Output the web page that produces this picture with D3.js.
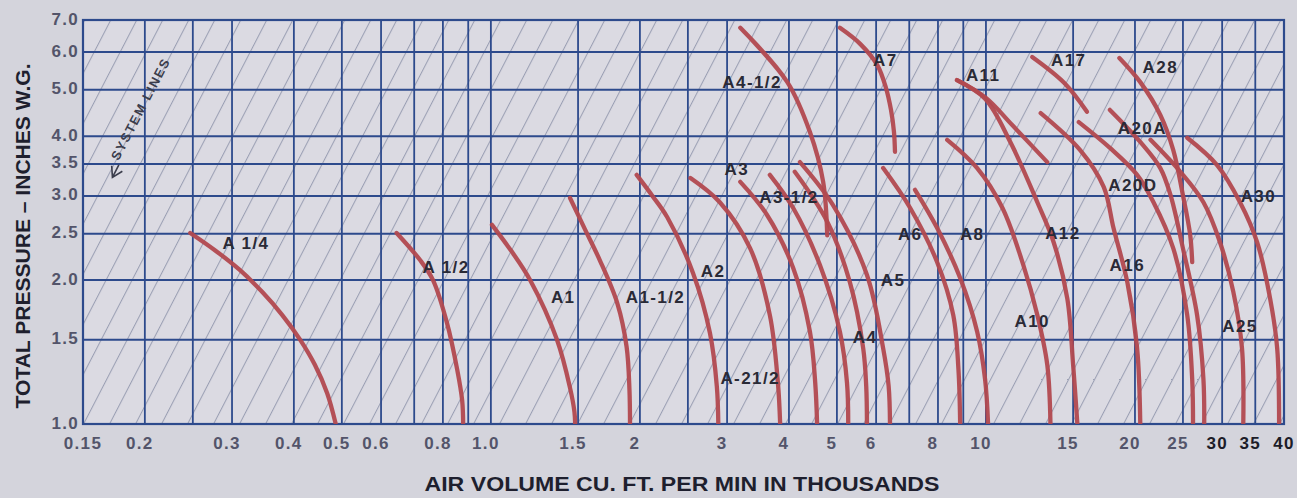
<!DOCTYPE html>
<html><head><meta charset="utf-8">
<script src="https://cdn.jsdelivr.net/npm/d3@7"></script>
<style>
html,body{margin:0;padding:0;background:#d3d3db;}
svg{display:block;}
</style></head><body>
<svg id="chart" width="1297" height="498"></svg>
<script>
// ---- data ----
const xTicks = [0.15,0.2,0.3,0.4,0.5,0.6,0.8,1.0,1.5,2,3,4,5,6,8,10,15,20,25,30,35,40];
const xTickLabels = ["0.15","0.2","0.3","0.4","0.5","0.6","0.8","1.0","1.5","2","3","4","5","6","8","10","15","20","25","30","35","40"];
const xGridValues = [0.15,0.2,0.25,0.3,0.4,0.5,0.6,0.7,0.8,0.9,1,1.5,2,2.5,3,4,5,6,7,8,9,10,15,20,25,30,35,40];
const yTicks = [1.0,1.5,2.0,2.5,3.0,3.5,4.0,5.0,6.0,7.0];
const yTickLabels = ["1.0","1.5","2.0","2.5","3.0","3.5","4.0","5.0","6.0","7.0"];

const fanNames = ["A 1/4","A 1/2","A1","A1-1/2","A2","A-21/2","A3","A3-1/2","A4","A4-1/2","A5","A6","A7","A8","A10","A11","A12","A16","A17","A20A","A20D","A25","A28","A30"];
// air volume (thousand CFM) along each fan curve
const fanFlow = [
  [0.247,0.277,0.311,0.345,0.379,0.412,0.441,0.467,0.486],
  [0.645,0.72,0.764,0.815,0.855,0.875,0.879],
  [1.005,1.10,1.20,1.36,1.445,1.475,1.48],
  [1.445,1.55,1.66,1.80,1.88,1.905,1.91],
  [1.97,2.12,2.27,2.56,2.77,2.86,2.88],
  [2.53,2.90,3.34,3.66,3.80,3.84],
  [3.19,3.61,4.08,4.41,4.52,4.56],
  [3.66,4.08,4.62,5.07,5.24,5.27],
  [4.11,4.78,5.31,5.65,5.73,5.75],
  [3.19,3.97,4.41,4.69,4.78],
  [4.21,4.91,5.75,6.20,6.36,6.40],
  [6.20,7.03,7.97,8.59,8.80,8.87],
  [5.07,5.57,6.03,6.28,6.43,6.52,6.55],
  [7.19,7.97,8.87,9.60,9.96,10.1],
  [8.35,9.60,10.8,11.9,12.7,13.3,13.5],
  [8.74,10.0,11.3,13.3],
  [8.74,9.96,11.2,12.7,13.7,14.6,15.0,15.3],
  [12.9,15.5,17.3,18.1,19.3,20.2,20.5],
  [12.4,14.4,16.0],
  [17.8,20.5,22.5,23.6,25.0,26.7,27.5,27.6],
  [15.4,17.8,20.2,21.8,23.9,25.5,26.1,26.2],
  [21.5,24.7,27.5,29.7,31.6,32.9,33.1],
  [18.6,20.5,22.5,23.9,25.0,25.85,26.1],
  [25.5,29.3,32.6,35.3,37.5,38.75,39.1]
];
// total pressure (in. W.G.) along each fan curve
const fanPressure = [
  [2.51,2.31,2.10,1.89,1.69,1.50,1.33,1.16,1.0],
  [2.51,2.2,2.0,1.63,1.30,1.12,1.0],
  [2.61,2.30,2.0,1.50,1.19,1.06,1.0],
  [2.97,2.55,2.20,1.79,1.45,1.18,1.0],
  [3.32,3.0,2.71,2.07,1.55,1.20,1.0],
  [3.27,2.91,2.33,1.69,1.22,1.0],
  [3.21,2.74,2.12,1.56,1.22,1.0],
  [3.32,2.83,2.15,1.56,1.22,1.0],
  [3.37,2.65,1.98,1.44,1.2,1.0],
  [6.74,5.19,4.08,3.21,2.48],
  [3.53,2.87,2.05,1.44,1.2,1.0],
  [3.43,2.83,2.18,1.69,1.30,1.0],
  [6.74,6.24,5.64,5.05,4.54,4.08,3.71],
  [3.09,2.57,2.02,1.56,1.24,1.0],
  [3.93,3.43,2.83,2.15,1.69,1.33,1.0],
  [5.24,4.81,4.22,3.53],
  [5.24,4.79,3.89,2.91,2.40,1.83,1.33,1.0],
  [4.47,3.74,3.13,2.57,1.98,1.44,1.0],
  [5.86,5.17,4.50],
  [4.54,3.89,3.43,3.01,2.33,1.69,1.24,1.0],
  [4.28,3.78,3.32,2.91,2.33,1.69,1.24,1.0],
  [3.93,3.37,2.91,2.40,1.89,1.44,1.0],
  [5.83,5.19,4.43,3.74,3.01,2.49,2.18],
  [3.97,3.48,2.91,2.40,1.83,1.44,1.0]
];
// label anchor (flow, pressure) for each fan name
const labelFlow = [0.320,0.812,1.40,2.15,2.81,3.34,3.14,4.00,5.70,3.37,6.49,7.03,6.26,9.38,12.4,9.87,14.3,19.3,14.7,20.7,19.8,32.6,22.5,35.5];
const labelPressure = [2.38,2.12,1.835,1.835,2.08,1.248,3.40,2.97,1.52,5.19,2.00,2.49,5.77,2.49,1.635,5.37,2.50,2.15,5.77,4.16,3.16,1.60,5.58,2.99];

// ---- chart ----
const svg = d3.select("#chart");
const W = 1297, H = 498;
const L = 83, R = 1284, T = 20, B = 424;
const FONT = "Liberation Sans, Arial, sans-serif";

const x = d3.scaleLog().domain([0.15, 40]).range([L, R]);
const y = d3.scaleLog().domain([1, 7]).range([B, T]);

svg.append("rect").attr("width", W).attr("height", H).attr("fill", "#d4d4dc");

const defs = svg.append("defs");
// system lines: P proportional to Q^2 are straight lines in log-log space
const slopePx = 2 * (B - T) / Math.log10(7) / ((R - L) / Math.log10(40 / 0.15));
const ang = Math.atan(slopePx) * 180 / Math.PI;
const hSpacing = 26;
const perp = hSpacing * Math.sin(Math.atan(slopePx));
const pat = defs.append("pattern").attr("id", "sys")
  .attr("patternUnits", "userSpaceOnUse")
  .attr("width", perp).attr("height", 40)
  .attr("patternTransform", `translate(${L},${B}) rotate(${90 - ang})`);
pat.append("line").attr("x1", 0.5).attr("x2", 0.5).attr("y1", 0).attr("y2", 40)
  .attr("stroke", "#868ca4").attr("stroke-width", 1.1).attr("opacity", 0.75);

defs.append("clipPath").attr("id", "plotclip")
  .append("rect").attr("x", L).attr("y", T).attr("width", R - L).attr("height", B - T);

const plot = svg.append("g");
plot.append("rect").attr("x", L).attr("y", T).attr("width", R - L).attr("height", B - T)
  .attr("fill", "#dbdae2");
plot.append("rect").attr("x", L).attr("y", T).attr("width", R - L).attr("height", B - T)
  .attr("fill", "url(#sys)");

// grid
const gridColor = "#2d4a8c";
plot.append("g").selectAll("line").data(xGridValues).join("line")
  .attr("x1", d => x(d)).attr("x2", d => x(d)).attr("y1", T).attr("y2", B)
  .attr("stroke", gridColor).attr("stroke-width", 1.8);
plot.append("g").selectAll("line").data(yTicks).join("line")
  .attr("x1", L).attr("x2", R).attr("y1", d => y(d)).attr("y2", d => y(d))
  .attr("stroke", gridColor).attr("stroke-width", 2);
plot.append("rect").attr("x", L).attr("y", T).attr("width", R - L).attr("height", B - T)
  .attr("fill", "none").attr("stroke", gridColor).attr("stroke-width", 2.2);

// "SYSTEM LINES" annotation
const sx0 = x(0.172), sy0 = y(3.28);
const ann = svg.append("g").attr("transform", `translate(${sx0},${sy0}) rotate(${-ang})`);
ann.append("text").attr("x", 17).attr("y", -2)
  .attr("font-family", FONT).attr("font-weight", "bold")
  .attr("font-size", 13).attr("letter-spacing", 1.5).attr("fill", "#3b3d4c")
  .text("SYSTEM LINES");
ann.append("path").attr("d", "M10,-6 L0,0 L10,6 M0,0 L14,0")
  .attr("fill", "none").attr("stroke", "#3b3d4c").attr("stroke-width", 1.6);

// fan curves
const line = d3.line().x(d => x(d[0])).y(d => y(d[1])).curve(d3.curveCatmullRom.alpha(0.5));
const curves = svg.append("g").attr("clip-path", "url(#plotclip)");
fanNames.forEach((name, i) => {
  const pts = fanFlow[i].map((q, j) => [q, fanPressure[i][j]]);
  curves.append("path").datum(pts).attr("d", line)
    .attr("fill", "none").attr("stroke", "#b2494f").attr("stroke-width", 4.3)
    .attr("stroke-linecap", "round").attr("opacity", 0.95);
});

// curve labels
svg.append("g").selectAll("text").data(fanNames).join("text")
  .attr("x", (d, i) => x(labelFlow[i])).attr("y", (d, i) => y(labelPressure[i]))
  .attr("text-anchor", "middle").attr("dominant-baseline", "central")
  .attr("font-family", FONT).attr("font-weight", "bold")
  .attr("font-size", 17).attr("letter-spacing", 1.4).attr("fill", "#2a2a36")
  .text(d => d);

// tick labels
svg.append("g").selectAll("text").data(xTicks).join("text")
  .attr("x", d => x(d)).attr("dx", (d, i) => (i === 0 || i === xTicks.length - 1) ? 0 : -5)
  .attr("y", 449)
  .attr("text-anchor", "middle")
  .attr("font-family", FONT).attr("font-weight", "bold")
  .attr("font-size", 17).attr("letter-spacing", 1.3)
  .attr("fill", d => d >= 30 ? "#1c1c28" : "#53546a")
  .text((d, i) => xTickLabels[i]);
svg.append("g").selectAll("text").data(yTicks).join("text")
  .attr("x", 79).attr("y", d => y(d) - 1)
  .attr("text-anchor", "end").attr("dominant-baseline", "central")
  .attr("font-family", FONT).attr("font-weight", "bold")
  .attr("font-size", 17).attr("letter-spacing", 1.3)
  .attr("fill", "#53546a")
  .text((d, i) => yTickLabels[i]);

// axis titles
svg.append("text").attr("x", 682).attr("y", 491)
  .attr("text-anchor", "middle")
  .attr("font-family", FONT).attr("font-weight", "900")
  .attr("font-size", 20).attr("fill", "#1e1f2e")
  .attr("textLength", 515).attr("lengthAdjust", "spacingAndGlyphs")
  .text("AIR VOLUME CU. FT. PER MIN IN THOUSANDS");
svg.append("text").attr("transform", "translate(30,236) rotate(-90)")
  .attr("text-anchor", "middle")
  .attr("font-family", FONT).attr("font-weight", "900")
  .attr("font-size", 20).attr("fill", "#1e1f2e")
  .attr("textLength", 345).attr("lengthAdjust", "spacingAndGlyphs")
  .text("TOTAL PRESSURE – INCHES W.G.");
</script>
</body></html>
